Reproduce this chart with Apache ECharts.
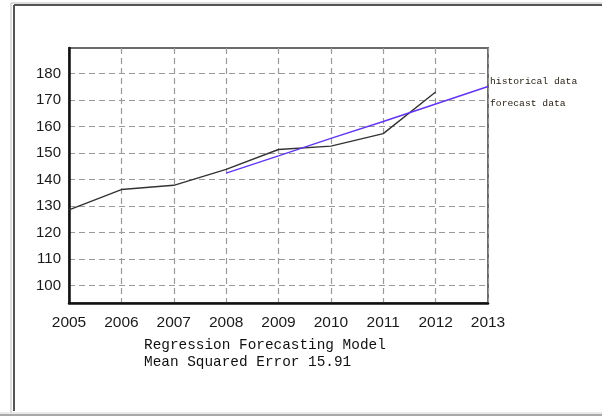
<!DOCTYPE html>
<html style="height: 100%">
<head>
    <meta charset="utf-8">
    <style>
        html,body {
            height: 100%;
            margin: 0;
            padding: 0;
            overflow: hidden;
            background: #fff;
        }
        #container {
            width: 602px;
            height: 416px;
        }
    </style>
</head>
<body>
    <div id="container"></div>
    <script src="https://cdn.jsdelivr.net/npm/echarts@6/dist/echarts.min.js"></script>
    <script>
        // data
        var histYears = [2005, 2006, 2007, 2008, 2009, 2010, 2011, 2012];
        var histValues = [128.5, 136.2, 137.8, 143.8, 151.3, 152.6, 157.3, 173.0];
        var fcYears = [2008, 2009, 2010, 2011, 2012, 2013];
        var fcValues = [142.4, 148.9, 155.5, 161.9, 168.5, 175.1];
        var yTicks = [100, 110, 120, 130, 140, 150, 160, 170, 180];
        var seriesNames = ['historical data', 'forecast data'];
        var titleLines = ['Regression Forecasting Model', 'Mean Squared Error 15.91'];

        function pairs(xs, ys) {
            return xs.map(function (x, i) { return [x, ys[i]]; });
        }

        var dom = document.getElementById('container');
        var myChart = echarts.init(dom, null, {renderer: 'canvas'});

        var dashed = {color: '#9a9a9a', width: 1.2, type: [6, 4]};

        var option = {
            animation: false,
            backgroundColor: '#fff',
            title: {
                text: titleLines.join('\n'),
                left: 144,
                top: 336,
                padding: 0,
                textStyle: {
                    fontFamily: 'Liberation Mono',
                    fontSize: 14.4,
                    fontWeight: 'normal',
                    lineHeight: 17.5,
                    color: '#111'
                }
            },
            legend: {
                data: seriesNames,
                orient: 'vertical',
                left: 485,
                top: 76,
                padding: 0,
                icon: 'rect',
                itemWidth: 0,
                itemHeight: 0,
                itemGap: 12,
                selectedMode: false,
                textStyle: {
                    fontFamily: 'Liberation Mono',
                    fontSize: 9.7,
                    color: '#2a2218'
                }
            },
            grid: {
                left: 69,
                right: 114,
                top: 48,
                bottom: 113,
                show: true,
                borderColor: '#6a6a6a',
                borderWidth: 2,
                containLabel: false
            },
            xAxis: {
                type: 'value',
                min: 2005,
                max: 2013,
                interval: 1,
                axisLine: {show: true, lineStyle: {color: '#111', width: 2.5}},
                axisTick: {show: false},
                axisLabel: {
                    margin: 12,
                    fontFamily: 'Liberation Sans',
                    fontSize: 15.5,
                    color: '#1a1a1a',
                    formatter: function (v) { return String(v); }
                },
                splitLine: {show: true, lineStyle: dashed}
            },
            yAxis: {
                type: 'value',
                min: 93.4,
                max: 189.6,
                axisLine: {show: true, lineStyle: {color: '#111', width: 2.5}},
                axisTick: {show: false, customValues: yTicks},
                axisLabel: {
                    customValues: yTicks,
                    margin: 8,
                    fontFamily: 'Liberation Sans',
                    fontSize: 15,
                    color: '#1a1a1a'
                },
                splitLine: {show: true, lineStyle: dashed}
            },
            graphic: [
                // window frame round the picture
                {type: 'line', shape: {x1: 11, y1: 3, x2: 602, y2: 3}, style: {stroke: '#bdbdbd', lineWidth: 1}},
                {type: 'line', shape: {x1: 11, y1: 3, x2: 11, y2: 413}, style: {stroke: '#bdbdbd', lineWidth: 1}},
                {type: 'line', shape: {x1: 14, y1: 5, x2: 602, y2: 5}, style: {stroke: '#555', lineWidth: 2}},
                {type: 'line', shape: {x1: 14, y1: 5, x2: 14, y2: 411}, style: {stroke: '#555', lineWidth: 2}},
                {type: 'line', shape: {x1: 0, y1: 413, x2: 602, y2: 413}, style: {stroke: '#d4d4d4', lineWidth: 1}},
                {type: 'line', shape: {x1: 0, y1: 415, x2: 602, y2: 415}, style: {stroke: '#a8a8a8', lineWidth: 2}}
            ],
            series: [
                {
                    name: seriesNames[0],
                    type: 'line',
                    symbol: 'none',
                    color: '#333',
                    lineStyle: {color: '#333', width: 1.4},
                    data: pairs(histYears, histValues)
                },
                {
                    name: seriesNames[1],
                    type: 'line',
                    symbol: 'none',
                    color: '#6236f0',
                    lineStyle: {color: '#6236f0', width: 1.5},
                    data: pairs(fcYears, fcValues)
                }
            ]
        };
        myChart.setOption(option);
    </script>
</body>
</html>
